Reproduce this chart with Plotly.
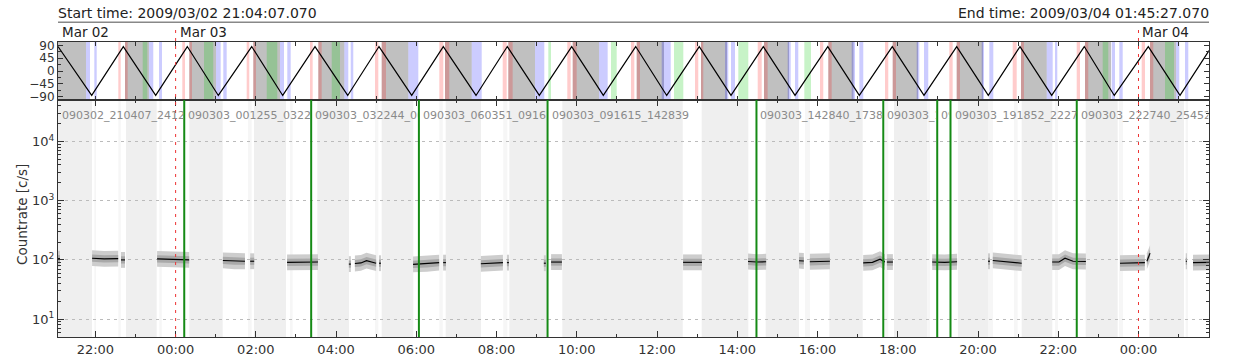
import pandas as pd
import plotly.graph_objects as go

# ---------------- data ----------------
START = pd.Timestamp("2009-03-02 21:04:07.070")
END = pd.Timestamp("2009-03-04 01:45:27.070")
start_label = "Start time: 2009/03/02 21:04:07.070"
end_label = "End time: 2009/03/04 01:45:27.070"
y_title = "Countrate [c/s]"

day_marks = ["2009-03-02 21:04:07.070", "2009-03-03 00:00:00", "2009-03-04 00:00:00"]
day_names = ["Mar 02", "Mar 03", "Mar 04"]

# rocking angle (hours since start, degrees)
angle_h = [0.0, 0.840, 1.628, 2.435, 3.223, 3.996, 4.828, 5.601, 6.406, 7.221, 8.001,
           8.816, 9.604, 10.419, 11.199, 11.997, 12.804, 13.592, 14.399, 15.172, 15.984,
           16.775, 17.580, 18.370, 19.187, 19.973, 20.795, 21.585, 22.400, 23.188, 23.978,
           24.768, 25.580, 26.328, 27.176, 27.966, 28.689]
angle_v = [86, -86, 86, -86, 86, -86, 86, -86, 86, -86, 86,
           -86, 86, -86, 86, -86, 86, -86, 86, -86, 86,
           -86, 86, -86, 86, -86, 86, -86, 86, -86, 86,
           -86, 86, -86, 86, -86, 72]

# top panel bands (hours since start)
gray_bands = [(0.0, 0.698), (1.670, 2.268), (3.273, 3.938), (4.868, 5.533), (6.488, 7.136),
              (8.068, 8.731), (9.646, 10.312), (11.224, 11.889), (12.829, 13.485),
              (14.424, 15.105), (16.027, 16.675), (17.597, 18.220), (19.200, 19.828),
              (20.805, 21.436), (22.400, 23.056), (24.003, 24.644), (25.598, 26.246),
              (27.218, 27.866)]
pink_bands = [(1.503, 1.563), (1.670, 1.737), (3.098, 3.165), (3.273, 3.340),
              (4.703, 4.768), (4.868, 4.935), (6.281, 6.348), (6.488, 6.573),
              (7.901, 7.984), (8.068, 8.175), (9.504, 9.604), (9.646, 9.753),
              (11.084, 11.184), (11.224, 11.333), (12.694, 12.779), (12.829, 12.929),
              (14.282, 14.365), (14.424, 14.507), (15.877, 15.959), (16.027, 16.084),
              (17.440, 17.540), (17.597, 17.689), (18.993, 19.075), (19.200, 19.285),
              (20.613, 20.695), (20.805, 20.887), (22.216, 22.300), (22.400, 22.483),
              (23.796, 23.896), (24.003, 24.078), (25.391, 25.474), (25.598, 25.680),
              (27.011, 27.094), (27.218, 27.300)]
blue_bands = [(0.698, 0.798), (0.905, 0.965), (2.268, 2.375), (2.517, 2.592),
              (3.938, 4.055), (4.120, 4.205), (5.533, 5.633), (5.715, 5.800),
              (7.136, 7.236), (7.296, 7.360), (8.731, 8.981), (10.312, 10.561),
              (11.889, 12.121), (13.485, 13.701), (15.047, 15.272), (16.625, 16.707),
              (16.775, 16.874), (18.188, 18.263), (18.370, 18.452), (19.783, 19.865),
              (19.973, 20.072), (21.403, 21.468), (21.585, 21.692), (23.023, 23.081),
              (23.213, 23.313), (24.644, 24.793), (24.851, 24.908), (26.264, 26.346),
              (26.453, 26.538), (27.866, 27.948), (28.091, 28.173)]
green_bands = [(2.111, 2.226), (3.639, 3.871), (5.202, 5.466), (6.822, 7.029),
               (12.221, 12.288), (13.784, 13.926), (15.354, 15.586), (16.957, 17.206),
               (18.602, 18.769), (26.039, 26.179), (27.592, 27.817)]

# bottom panel background bands (hours since start)
light_bands = [(0.0, 0.847), (1.695, 2.460), (3.273, 4.105), (4.885, 5.683), (6.463, 7.253),
               (8.068, 8.856), (9.663, 10.543), (11.249, 12.181), (12.570, 15.571),
               (16.044, 17.206), (17.639, 18.470), (19.225, 20.057), (20.837, 21.667),
               (22.430, 23.193), (24.020, 24.783), (25.615, 26.413), (27.201, 28.066)]
faint_bands = [(0.905, 0.947), (1.503, 1.563), (2.525, 2.585), (4.736, 4.828),
               (5.783, 5.850), (7.901, 7.984), (9.504, 9.589), (11.099, 11.199),
               (18.619, 18.744), (20.613, 20.695), (21.667, 21.735), (23.193, 23.303),
               (23.828, 23.920), (24.851, 24.925), (26.446, 26.545), (28.108, 28.166)]

# count-rate segments: smoothed curve points (hours since start, c/s)
seg_t = [[0.00, 0.05], [0.85, 1.15, 1.50], [1.57, 1.67], [2.47, 2.90, 3.27],
         [4.11, 4.40, 4.66], [4.79, 4.89], [5.71, 6.10, 6.48], [7.25, 7.30],
         [7.40, 7.55, 7.69, 7.93], [8.00, 8.05], [8.85, 9.20, 9.50], [9.60, 9.67],
         [10.54, 10.80, 11.09], [11.19, 11.24], [12.11, 12.16], [12.29, 12.56],
         [15.58, 15.80, 16.05], [17.20, 17.42, 17.65], [18.47, 18.59],
         [18.74, 19.00, 19.24], [20.07, 20.30, 20.49, 20.61], [20.66, 20.81],
         [21.79, 22.10, 22.41], [23.18, 23.23], [23.30, 23.65, 24.02],
         [24.78, 24.95, 25.10, 25.30, 25.62], [26.47, 26.80, 27.09], [27.14, 27.22],
         [28.11, 28.14], [28.29, 28.50, 28.69]]
seg_v = [[105, 105], [107, 104, 105], [100, 100], [104, 103, 100],
         [98, 95, 95], [95, 95], [91, 91, 92], [85, 85],
         [87, 89, 97, 88], [88, 88], [84, 86, 90], [90, 90],
         [86, 88, 90], [90, 90], [88, 88], [92, 92],
         [91, 90, 91], [94, 92, 93], [97, 96],
         [93, 94, 95], [89, 91, 103, 92], [92, 92],
         [92, 91, 93], [95, 95], [98, 94, 88],
         [92, 92, 107, 95, 94], [88, 88, 90], [95, 130],
         [95, 95], [90, 90, 91]]
NOISE_OUTER = 1.36   # spread of the scattered points
NOISE_INNER = 1.15

# trigger times and file-segment labels
trig_times = ["2009-03-03 00:12:55", "2009-03-03 03:22:44", "2009-03-03 06:03:51",
              "2009-03-03 09:16:15", "2009-03-03 14:28:40", "2009-03-03 17:38:20",
              "2009-03-03 18:59:00", "2009-03-03 19:18:52", "2009-03-03 22:27:40"]
seg_labels = ["090302_210407_241255", "090303_001255_032244", "090303_032244_060351",
              "090303_060351_091615", "090303_091615_142839", "090303_142840_173820",
              "090303_173820_185900", "090303_185900_191852", "090303_191852_222740",
              "090303_222740_254527"]

y_tickvals = [10, 100, 1000, 10000]
y_ticktext = ["10<sup>1</sup>", "10<sup>2</sup>", "10<sup>3</sup>", "10<sup>4</sup>"]
ang_tickvals = [-90, -45, 0, 45, 90]
ang_ticktext = ["\u221290", "\u221245", "0", "45", "90"]

# ---------------- helpers ----------------
FONT = "DejaVu Sans"
PLOT_W = 1240 - 58 - 31
SPLIT = 0.8034


def T(h):
    return START + pd.to_timedelta(h, unit="h")


def iso(ts):
    return pd.Timestamp(ts).strftime("%Y-%m-%d %H:%M:%S.%f")[:-3]


fig = go.Figure()

# top panel: rocking angle
fig.add_trace(go.Scatter(x=[iso(T(h)) for h in angle_h], y=angle_v, xaxis="x2", yaxis="y2",
                         mode="lines", line=dict(color="black", width=1.2),
                         hoverinfo="skip", showlegend=False))

# bottom panel: count rate clouds + smoothed curves
for ts, vs in zip(seg_t, seg_v):
    xs = [iso(T(h)) for h in ts]
    for spread, col in ((NOISE_OUTER, "#cdcdcd"), (NOISE_INNER, "#a9a9a9")):
        up = [v * spread for v in vs]
        lo = [v / spread for v in vs]
        fig.add_trace(go.Scatter(x=xs + xs[::-1], y=up + lo[::-1], mode="lines",
                                 fill="toself", fillcolor=col, line=dict(width=0, color=col),
                                 xaxis="x", yaxis="y", hoverinfo="skip", showlegend=False))
for ts, vs in zip(seg_t, seg_v):
    fig.add_trace(go.Scatter(x=[iso(T(h)) for h in ts], y=vs, mode="lines",
                             line=dict(color="black", width=1.1), xaxis="x", yaxis="y",
                             hoverinfo="skip", showlegend=False))

shapes = []
for a, b in gray_bands:
    shapes.append(dict(type="rect", xref="x2", yref="y2 domain", x0=iso(T(a)), x1=iso(T(b)),
                       y0=0, y1=1, fillcolor="#c0c0c0", line=dict(width=0), layer="below"))
for bands, col in ((pink_bands, "rgba(255,0,0,0.2)"), (blue_bands, "rgba(0,0,255,0.2)"),
                   (green_bands, "rgba(0,200,0,0.22)")):
    for a, b in bands:
        shapes.append(dict(type="rect", xref="x2", yref="y2 domain", x0=iso(T(a)), x1=iso(T(b)),
                           y0=0, y1=1, fillcolor=col, line=dict(width=0), layer="below"))
for a, b in light_bands:
    shapes.append(dict(type="rect", xref="x", yref="y domain", x0=iso(T(a)), x1=iso(T(b)),
                       y0=0, y1=1, fillcolor="#efefef", line=dict(width=0), layer="below"))
for a, b in faint_bands:
    shapes.append(dict(type="rect", xref="x", yref="y domain", x0=iso(T(a)), x1=iso(T(b)),
                       y0=0, y1=1, fillcolor="#f6f6f6", line=dict(width=0), layer="below"))
for t in trig_times:
    shapes.append(dict(type="line", xref="x", yref="y domain", x0=t, x1=t, y0=0, y1=1,
                       line=dict(color="#158a15", width=2), layer="above"))
for t in day_marks[1:]:
    shapes.append(dict(type="line", xref="x", yref="paper", x0=t, x1=t, y0=0, y1=1.0508,
                       line=dict(color="#ee3333", width=1, dash="3px,5px"), layer="above"))
shapes.append(dict(type="line", xref="paper", yref="paper", x0=0, x1=1, y0=1.0668, y1=1.0668,
                   line=dict(color="#888888", width=1.5)))

annotations = [
    dict(text=start_label, xref="paper", yref="paper", x=0, y=1.0983, xanchor="left",
         yanchor="middle", showarrow=False, xshift=-2, font=dict(family=FONT, size=14, color="#222")),
    dict(text=end_label, xref="paper", yref="paper", x=1, y=1.0983, xanchor="right",
         yanchor="middle", showarrow=False, xshift=2, font=dict(family=FONT, size=14, color="#222")),
    dict(text=y_title, xref="paper", yref="paper", x=-0.0313, y=0.417, xanchor="center",
         yanchor="middle", textangle=-90, showarrow=False,
         font=dict(family=FONT, size=13.5, color="#333")),
]
for t, name in zip(day_marks, day_names):
    annotations.append(dict(text=name, xref="x", yref="paper", x=t, y=1.0349, xanchor="left",
                            yanchor="middle", showarrow=False, xshift=2,
                            font=dict(family=FONT, size=13.5, color="#222")))

total_s = (END - START).total_seconds()
starts = [iso(START)] + trig_times
ends = trig_times + [iso(END)]
for s, e, name in zip(starts, ends, seg_labels):
    w = (pd.Timestamp(e) - pd.Timestamp(s)).total_seconds() / total_s * PLOT_W - 5
    annotations.append(dict(text=name, xref="x", yref="y domain", x=s, y=1, xanchor="left",
                            yanchor="top", yshift=-9, xshift=4, width=max(w, 1), align="left",
                            borderpad=0, borderwidth=0, showarrow=False,
                            font=dict(family=FONT, size=11, color="#8a8a8a")))

axis_common = dict(showline=True, linecolor="#333", linewidth=1, ticks="inside",
                   tickcolor="#333", mirror="ticks", showgrid=False, zeroline=False,
                   automargin=False)

fig.update_layout(
    template="none",
    width=1240, height=360,
    margin=dict(l=58, r=31, t=42, b=23, autoexpand=False),
    paper_bgcolor="white", plot_bgcolor="white",
    font=dict(family=FONT, size=13, color="#333"),
    showlegend=False,
    shapes=shapes, annotations=annotations,
    xaxis=dict(axis_common, domain=[0, 1], anchor="y", type="date",
               range=[iso(START), iso(END)], tickformat="%H:%M", dtick=7200000,
               tick0="2009-03-02 00:00:00", ticklen=6, ticklabelstandoff=0,
               minor=dict(dtick=3600000, ticks="inside", ticklen=3, tickcolor="#333"),
               tickfont=dict(family=FONT, size=13, color="#333")),
    xaxis2=dict(axis_common, domain=[0, 1], anchor="y2", matches="x", type="date",
                showticklabels=False, dtick=3600000, tick0="2009-03-02 00:00:00", ticklen=4),
    yaxis=dict(axis_common, domain=[0, SPLIT], anchor="x", type="log", range=[0.699, 4.699],
               tickvals=y_tickvals, ticktext=y_ticktext, ticklen=6,
               showgrid=True, gridcolor="#bbbbbb", griddash="3px,4px", gridwidth=1,
               minor=dict(dtick="D1", ticks="inside", ticklen=3, tickcolor="#333", showgrid=False),
               tickfont=dict(family=FONT, size=13, color="#333")),
    yaxis2=dict(axis_common, domain=[SPLIT, 1], anchor="x2", range=[-102, 102],
                tickvals=ang_tickvals, ticktext=ang_ticktext, ticklen=5,
                minor=dict(tickvals=[-67.5, -22.5, 22.5, 67.5], ticks="inside", ticklen=3,
                           tickcolor="#333"),
                tickfont=dict(family=FONT, size=12, color="#333")),
)

fig.write_html("out.html")
